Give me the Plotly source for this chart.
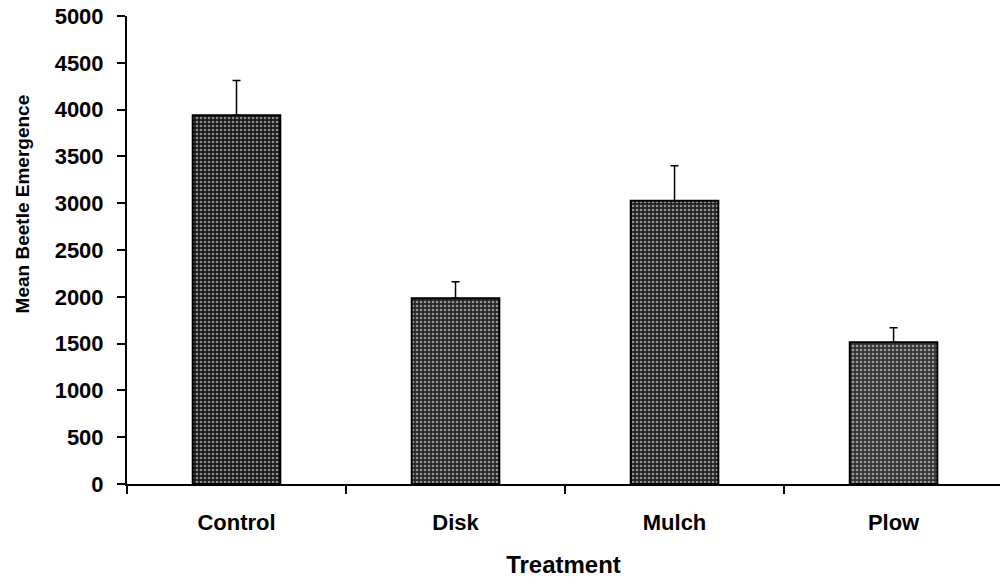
import plotly.graph_objects as go

categories = ["Control", "Disk", "Mulch", "Plow"]
mean_emergence = [3940, 1985, 3025, 1515]
error_plus = [370, 175, 375, 155]
y_ticks = [0, 500, 1000, 1500, 2000, 2500, 3000, 3500, 4000, 4500, 5000]

bar_colors = ["#1a1a1a", "#262626", "#222222", "#343434"]

FONT = "Liberation Sans"

fig = go.Figure()
fig.add_trace(go.Bar(
    x=categories,
    y=mean_emergence,
    width=0.4,
    marker=dict(
        color=bar_colors,
        line=dict(color="black", width=2),
        pattern=dict(shape=".", fgcolor="white", bgcolor=bar_colors,
                     size=4, solidity=0.35, fillmode="overlay"),
    ),
    error_y=dict(type="data", symmetric=False, array=error_plus,
                 arrayminus=[0, 0, 0, 0], color="black", thickness=1.5, width=4),
    showlegend=False,
))

fig.update_layout(
    width=1000, height=581,
    margin=dict(l=127, r=0, t=16, b=97, autoexpand=False),
    paper_bgcolor="white", plot_bgcolor="white",
    font=dict(family=FONT, size=22, color="black", weight="bold"),
    xaxis=dict(
        range=[-0.5, 3.486],
        automargin=False,
        showline=True, linecolor="black", linewidth=2,
        ticks="outside", tickson="boundaries", ticklen=8, tickwidth=1.5, tickcolor="black",
        showgrid=False, zeroline=False,
        ticklabelstandoff=18,
        tickfont=dict(family=FONT, size=22, weight="bold"),
        title=dict(text="Treatment", font=dict(family=FONT, size=24, weight="bold"), standoff=22),
    ),
    yaxis=dict(
        range=[0, 5000],
        automargin=False,
        tickvals=y_ticks,
        showline=True, linecolor="black", linewidth=2,
        ticks="outside", ticklen=8, tickwidth=1.5, tickcolor="black",
        showgrid=False, zeroline=False,
        ticklabelstandoff=9,
        ticklabeloverflow="allow",
        tickfont=dict(family=FONT, size=22, weight="bold"),
    ),
    annotations=[dict(
        text="Mean Beetle Emergence", textangle=-90,
        xref="paper", yref="paper", x=-0.120, y=0.598,
        xanchor="center", yanchor="middle", showarrow=False,
        font=dict(family=FONT, size=19, color="black", weight="bold"),
    )],
)

fig.write_html(
    "out.html",
    config={"displayModeBar": False},
    post_script="document.body.style.margin='0';document.body.style.overflow='hidden';",
)
